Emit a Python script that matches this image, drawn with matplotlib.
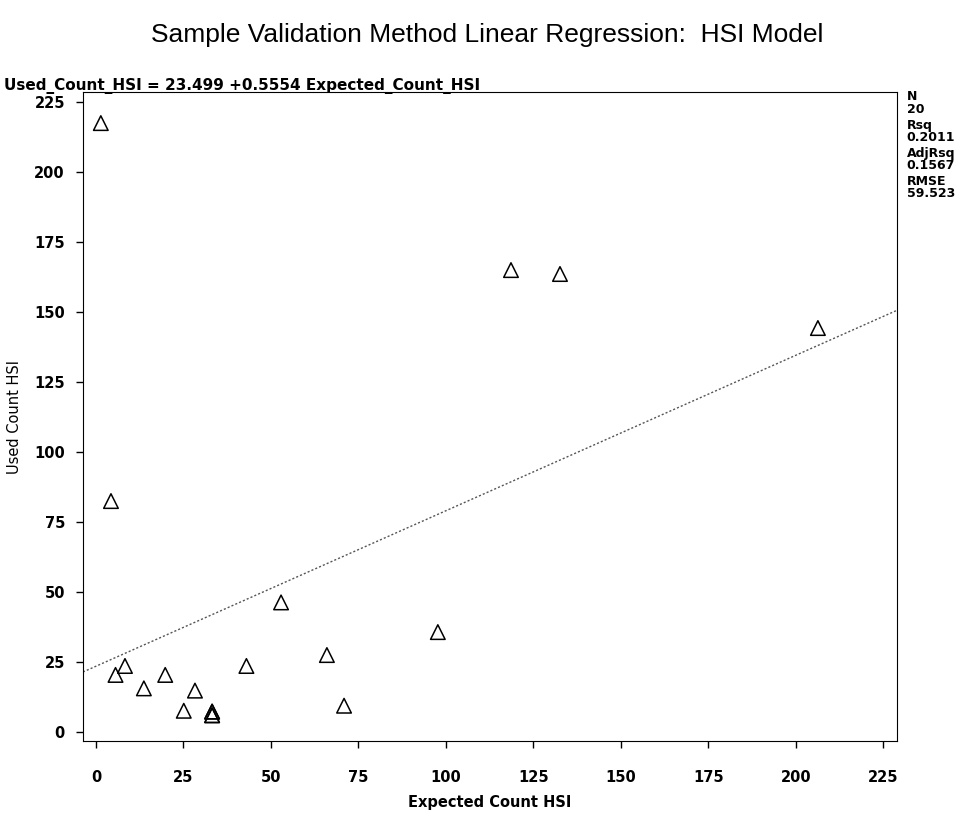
import numpy as np
import matplotlib
matplotlib.use("Agg")
import matplotlib.pyplot as plt

expected = [1.4, 4.3, 5.6, 8.3, 13.7, 19.8, 25.1, 28.3, 33.2, 33.2, 33.2, 33.2,
            43.0, 52.9, 66.0, 70.9, 97.7, 118.6, 132.6, 206.3]
used = [217.5, 82.5, 20.4, 23.6, 15.6, 20.4, 7.6, 14.8, 7.3, 6.0, 6.0, 7.3,
        23.6, 46.3, 27.5, 9.4, 35.7, 165.0, 163.6, 144.3]

# fit statistics as printed by the regression
intercept = 23.499
slope = 0.5554
stats = [("N", "20"), ("Rsq", "0.2011"), ("AdjRsq", "0.1567"), ("RMSE", "59.523")]

ticks = [0, 25, 50, 75, 100, 125, 150, 175, 200, 225]

fig = plt.figure(figsize=(9.75, 8.15), dpi=100)
ax = fig.add_axes([0.0851, 0.0908, 0.8349, 0.7963])

xlim = (-3.7, 228.9)
ylim = (-3.2, 228.6)
ax.set_xlim(xlim)
ax.set_ylim(ylim)

ax.scatter(expected, used, marker="^", s=110, facecolors="none",
           edgecolors="black", linewidths=1.1, zorder=3)

xs = np.linspace(xlim[0], xlim[1], 50)
ax.plot(xs, intercept + slope * xs, color="#555555", linestyle=(0, (1.5, 1.5)),
        linewidth=1.0)

ax.set_xticks(ticks)
ax.set_yticks(ticks)
ax.tick_params(direction="out", length=5, width=1)
ax.tick_params(axis="x", pad=16)
ax.tick_params(axis="y", pad=8)
for lab in ax.get_xticklabels() + ax.get_yticklabels():
    lab.set_fontweight("bold")
    lab.set_fontsize(10.5)

ax.set_xlabel("Expected Count HSI", fontsize=10.5, fontweight="bold", labelpad=7)
ax.set_ylabel("Used Count HSI", fontsize=10.5)
ax.yaxis.set_label_coords(-0.075, 0.5)

fig.text(0.5, 0.957, "Sample Validation Method Linear Regression:  HSI Model",
         ha="center", va="center", fontsize=19, family="Liberation Sans")
fig.text(0.004, 0.894, "Used_Count_HSI = %.3f +%.4f Expected_Count_HSI" % (intercept, slope),
         ha="left", va="center", fontsize=11, fontweight="bold")

y0 = 0.881
for name, val in stats:
    fig.text(0.930, y0, name, ha="left", va="center", fontsize=9, fontweight="bold")
    fig.text(0.930, y0 - 0.0155, val, ha="left", va="center", fontsize=9, fontweight="bold")
    y0 -= 0.0345

fig.savefig("out.png", dpi=100)
